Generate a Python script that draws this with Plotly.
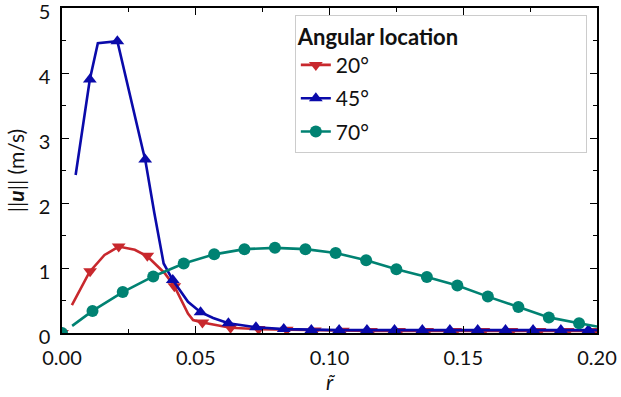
import plotly.graph_objects as go

# ---- data ----
# 20 deg (red, down triangles)
r20_line = [0.0037, 0.0103, 0.0159, 0.0212, 0.0272, 0.0319, 0.0384, 0.0420, 0.0471, 0.0490,
            0.0525, 0.0630, 0.0735, 0.0840, 0.0945, 0.1050, 0.1155, 0.1260, 0.1365, 0.1470,
            0.1575, 0.1680, 0.1785, 0.1890, 0.1995, 0.2000]
u20_line = [0.43, 0.94, 1.20, 1.33, 1.28, 1.18, 0.92, 0.72, 0.30, 0.20,
            0.16, 0.08, 0.06, 0.05, 0.04, 0.035, 0.03, 0.03, 0.03, 0.03,
            0.03, 0.03, 0.03, 0.03, 0.03, 0.03]
r20_mark = [0.0, 0.0105, 0.0212, 0.0319, 0.0420, 0.0525, 0.0630, 0.0735, 0.0840, 0.0945,
            0.1050, 0.1155, 0.1260, 0.1365, 0.1470, 0.1575, 0.1680, 0.1785, 0.1890, 0.1995]
u20_mark = [0.0, 0.95, 1.33, 1.19, 0.72, 0.16, 0.08, 0.06, 0.05, 0.04,
            0.035, 0.03, 0.03, 0.03, 0.03, 0.03, 0.03, 0.03, 0.03, 0.03]

# 45 deg (blue, up triangles)
r45_line = [0.0051, 0.0104, 0.0134, 0.0207, 0.0303, 0.0311, 0.0345, 0.0380, 0.0414, 0.0471,
            0.0518, 0.0565, 0.0622, 0.0725, 0.0829, 0.0932, 0.1036, 0.1140, 0.1243, 0.1347,
            0.1450, 0.1554, 0.1658, 0.1761, 0.1865, 0.1968, 0.2000]
u45_line = [2.43, 3.90, 4.46, 4.49, 2.80, 2.67, 1.85, 1.07, 0.815, 0.48,
            0.32, 0.23, 0.15, 0.088, 0.06, 0.047, 0.045, 0.045, 0.045, 0.045,
            0.045, 0.045, 0.045, 0.045, 0.045, 0.045, 0.045]
r45_mark = [0.0, 0.0104, 0.0207, 0.0311, 0.0414, 0.0518, 0.0622, 0.0725, 0.0829, 0.0932,
            0.1036, 0.1140, 0.1243, 0.1347, 0.1450, 0.1554, 0.1658, 0.1761, 0.1865, 0.1968]
u45_mark = [0.0, 3.90, 4.49, 2.67, 0.815, 0.32, 0.15, 0.088, 0.06, 0.047,
            0.045, 0.045, 0.045, 0.045, 0.045, 0.045, 0.045, 0.045, 0.045, 0.045]

# 70 deg (teal, circles)
r70_line = [0.0038, 0.0114, 0.0227, 0.0341, 0.0455, 0.0569, 0.0682, 0.0796, 0.0910, 0.1023,
            0.1137, 0.1250, 0.1364, 0.1478, 0.1592, 0.1706, 0.1820, 0.1933, 0.2000]
u70_line = [0.11, 0.34, 0.63, 0.87, 1.07, 1.21, 1.29, 1.31, 1.29, 1.23,
            1.12, 0.98, 0.86, 0.73, 0.56, 0.40, 0.24, 0.15, 0.10]
r70_mark = [0.0, 0.0114, 0.0227, 0.0341, 0.0455, 0.0569, 0.0682, 0.0796, 0.0910, 0.1023,
            0.1137, 0.1250, 0.1364, 0.1478, 0.1592, 0.1706, 0.1820, 0.1933]
u70_mark = [0.0, 0.34, 0.63, 0.87, 1.07, 1.21, 1.29, 1.31, 1.29, 1.23,
            1.12, 0.98, 0.86, 0.73, 0.56, 0.40, 0.24, 0.15]

series = [
    ("20°", r20_line, u20_line, r20_mark, u20_mark, "#c8282d", "triangle-down"),
    ("45°", r45_line, u45_line, r45_mark, u45_mark, "#0a0aaa", "triangle-up"),
    ("70°", r70_line, u70_line, r70_mark, u70_mark, "#008272", "circle"),
]

FONT = "Lato"
fig = go.Figure()
for name, xl, yl, xm, ym, col, sym in series:
    msize = 12
    fig.add_trace(go.Scatter(x=xl, y=yl, mode="lines", line=dict(color=col, width=2.6),
                             showlegend=False, hoverinfo="skip"))
    fig.add_trace(go.Scatter(x=xm, y=ym, mode="markers", showlegend=False,
                             marker=dict(symbol=sym, size=msize, color=col), cliponaxis=True))
    fig.add_trace(go.Scatter(x=[None], y=[None], mode="lines+markers", name=name,
                             legendgroup=name,
                             line=dict(color=col, width=2.6),
                             marker=dict(symbol=sym, size=msize, color=col)))

axis_common = dict(
    showgrid=False, zeroline=False, showline=True, linecolor="black", linewidth=1.5,
    mirror="allticks", ticks="inside", ticklen=7, tickwidth=1.2, tickcolor="black",
    tickfont=dict(family=FONT, size=20, color="#111111"),
    ticklabeloverflow="allow", automargin=False,
)
fig.update_xaxes(range=[0, 0.2], tick0=0, dtick=0.05, tickformat=".2f",
                 minor=dict(ticks="inside", ticklen=4, dtick=0.025, tickcolor="black"),
                 title=dict(text="<i>r\u0303</i>", font=dict(family=FONT, size=21, color="#111111"),
                            standoff=6),
                 ticklabelstandoff=6,
                 **axis_common)
fig.update_yaxes(range=[0, 5], tick0=0, dtick=1,
                 minor=dict(ticks="inside", ticklen=4, dtick=0.5, tickcolor="black"),
                 title=dict(text="||<b><i>u</i></b>|| (m/s)", font=dict(family=FONT, size=21, color="#111111"),
                            standoff=8),
                 ticklabelstandoff=6, ticklabelshift=4,
                 **axis_common)

fig.update_layout(
    width=621, height=397,
    margin=dict(l=62, r=24, t=8, b=64),
    paper_bgcolor="white", plot_bgcolor="white",
    font=dict(family=FONT, color="#111111"),
    legend=dict(
        x=0.981, y=0.978, xanchor="right", yanchor="top",
        bgcolor="white", bordercolor="#cccccc", borderwidth=1,
        font=dict(family=FONT, size=21, color="#111111"),
        title=dict(text="<b>Angular location</b>" + "\u00a0" * 22,
                   font=dict(family=FONT, size=22, color="#111111")),
        tracegroupgap=3,
    ),
)

fig.write_html("out.html")
